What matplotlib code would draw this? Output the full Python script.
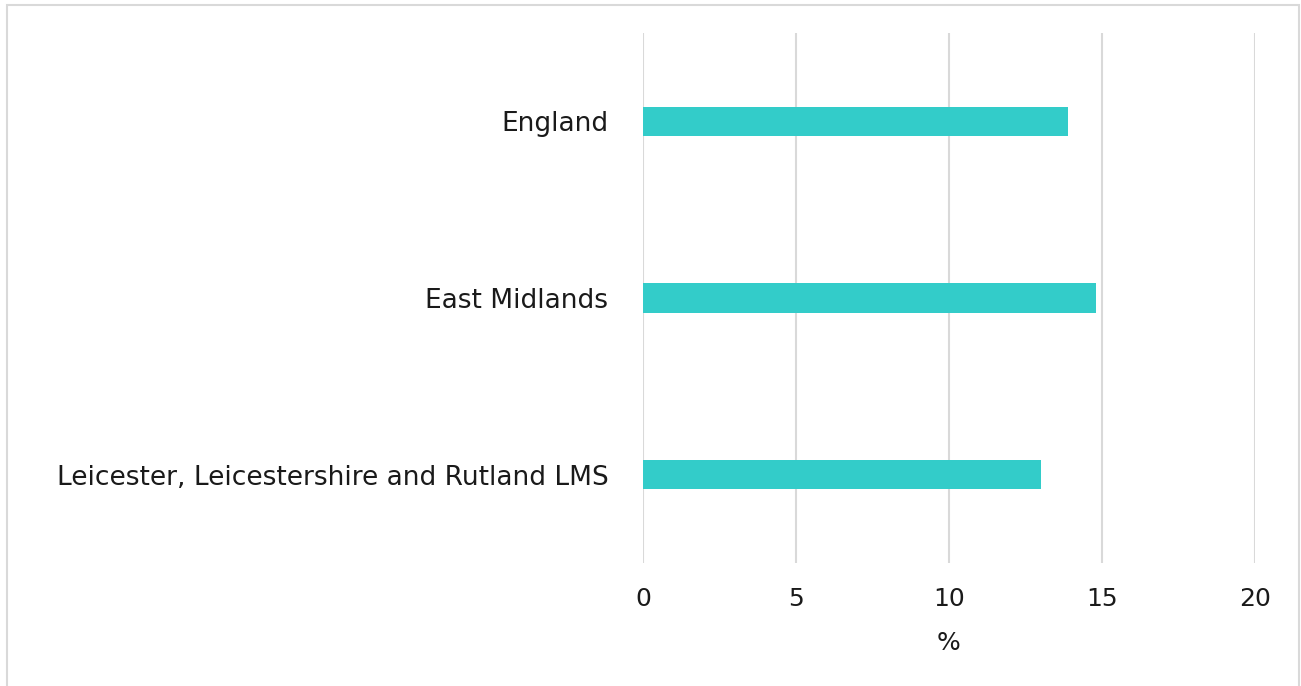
import matplotlib.pyplot as plt
import matplotlib.patches as patches

# data
areas = ['England', 'East Midlands', 'Leicester, Leicestershire and Rutland LMS']
values = [13.9, 14.8, 13.0]
x_ticks = [0, 5, 10, 15, 20]

W, H = 1301, 686
fig = plt.figure(figsize=(W / 100, H / 100), dpi=100)

# axes placed in pixel terms: x 643..1255, y 33..563
left, right, top, bottom = 643, 1255, 33, 563
ax = fig.add_axes([left / W, 1 - bottom / H, (right - left) / W, (bottom - top) / H])

ypos = list(range(len(areas)))
ax.barh(ypos, values, height=0.165, color='#33CCC9', zorder=3)

ax.set_xlim(0, 20)
ax.set_ylim(len(areas) - 0.5, -0.5)
ax.set_xticks(x_ticks)
ax.set_xticklabels([str(t) for t in x_ticks])
ax.set_yticks(ypos)
ax.set_yticklabels(areas)

ax.grid(axis='x', color='#D9D9D9', linewidth=1.5, zorder=0)
for s in ax.spines.values():
    s.set_visible(False)
ax.tick_params(axis='both', length=0, labelsize=18, colors='#1a1a1a')
ax.tick_params(axis='y', pad=25, labelsize=19)
ax.tick_params(axis='x', pad=17)
for lbl in ax.get_xticklabels() + ax.get_yticklabels():
    lbl.set_fontfamily('DejaVu Sans')

ax.set_xlabel('%', fontsize=18, color='#1a1a1a', fontfamily='DejaVu Sans', labelpad=15)

# light frame round the chart (bottom edge off the image)
frame = patches.Rectangle((7 / W, -0.05), (1299 - 7) / W, 1.05 - 5 / H,
                          transform=fig.transFigure, fill=False,
                          edgecolor='#D9D9D9', linewidth=1.5)
fig.patches.append(frame)

fig.savefig('out.png', dpi=100)
